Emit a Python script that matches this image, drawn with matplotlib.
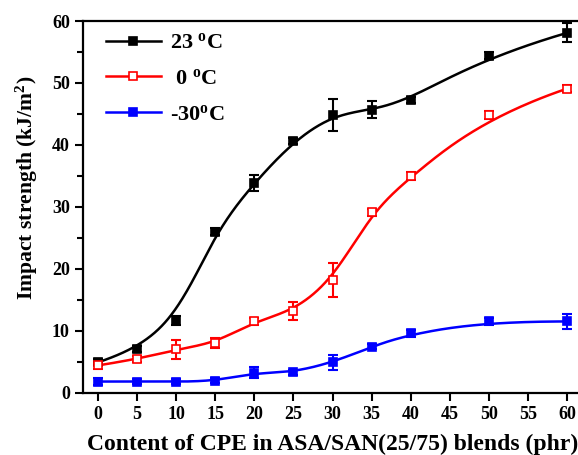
import numpy as np
import matplotlib
matplotlib.use('Agg')
import matplotlib.pyplot as plt

plt.rcParams['font.family'] = ['Liberation Serif', 'DejaVu Serif']
plt.rcParams['font.weight'] = 'bold'
plt.rcParams['mathtext.fontset'] = 'custom'
plt.rcParams['mathtext.rm'] = 'Liberation Serif:bold'
plt.rcParams['mathtext.it'] = 'Liberation Serif:bold'

# data
cpe = [0, 5, 10, 15, 20, 25, 30, 35, 40, 50, 60]
t23 = [4.9, 7.0, 11.7, 26.0, 33.9, 40.6, 44.8, 45.7, 47.3, 54.4, 58.1]
t23_err = [0.5, 0.5, 0.7, 0.6, 1.3, 0.5, 2.6, 1.4, 0.5, 0.6, 1.5]
t0 = [4.4, 5.4, 7.0, 8.0, 11.5, 13.2, 18.2, 29.1, 35.0, 44.8, 49.1]
t0_err = [0.6, 0.5, 1.5, 0.8, 0.5, 1.5, 2.8, 0.6, 0.6, 0.6, 0.5]
tm30 = [1.8, 1.8, 1.75, 1.9, 3.2, 3.3, 4.9, 7.4, 9.6, 11.5, 11.5]
tm30_err = [0.6, 0.4, 0.4, 0.4, 0.9, 0.4, 1.2, 0.4, 0.6, 0.6, 1.2]
labels = ['23 $^{\\rm o}$C', ' 0 $^{\\rm o}$C', '-30$^{\\rm o}$C']


def bspline(x, y, n=400):
    # clamped cubic B-spline, the data points act as control points
    P = np.column_stack([x, y]).astype(float)
    k = 3
    m = len(P)
    knots = np.concatenate([[0] * k, np.arange(m - k + 1), [m - k] * k]).astype(float)
    ts = np.linspace(0, m - k, n)
    out = []
    for t in ts:
        s = min(int(np.floor(t)) + k, m - 1)
        d = [P[j + s - k].copy() for j in range(k + 1)]
        for r in range(1, k + 1):
            for j in range(k, r - 1, -1):
                i = j + s - k
                a = (t - knots[i]) / (knots[i + k + 1 - r] - knots[i])
                d[j] = (1 - a) * d[j - 1] + a * d[j]
        out.append(d[k])
    out = np.array(out)
    return out[:, 0], out[:, 1]


fig = plt.figure(figsize=(5.78, 4.55), dpi=100)
ax = fig.add_axes([83 / 578, 62.3 / 455, 500 / 578, 371.7 / 455])

series = [(t23, t23_err, 'black', 'black'),
          (t0, t0_err, 'red', 'white'),
          (tm30, tm30_err, 'blue', 'blue')]
handles = []
for (y, e, c, fc), lab in zip(series, labels):
    bx, by = bspline(cpe, y)
    ax.plot(bx, by, color=c, lw=1.8, zorder=2)
    ax.errorbar(cpe, y, yerr=e, fmt='none', ecolor=c, elinewidth=1.5,
                capsize=3.5, capthick=1.5, zorder=3)
    ax.plot(cpe, y, 's', color=c, mfc=fc, mec=c, ms=6, mew=1.2, zorder=4)
    h, = ax.plot([], [], '-s', color=c, mfc=fc, mec=c, ms=6, mew=1.2, lw=1.8, label=lab)
    handles.append(h)

ax.set_xlim(-1.9, 62)
ax.set_ylim(0, 60)
ax.set_xticks(np.arange(0, 61, 5))
ax.set_yticks(np.arange(0, 61, 10))
ax.set_yticks(np.arange(5, 60, 10), minor=True)
ax.tick_params(axis='both', which='major', direction='out', length=6, width=1.5,
               labelsize=13)
ax.tick_params(axis='y', which='minor', direction='out', length=4, width=1.5)
for s in ax.spines.values():
    s.set_linewidth(1.6)
for t in ax.get_xticklabels() + ax.get_yticklabels():
    t.set_fontweight('bold')

ax.set_xlabel('Content of CPE in ASA/SAN(25/75) blends (phr)', fontsize=17,
              fontweight='bold', labelpad=8)
ax.set_ylabel('Impact strength (kJ/m$^2$)', fontsize=15.6, fontweight='bold')
ax.yaxis.set_label_coords(-0.085, 0.55)

leg = ax.legend(handles=handles, loc='upper left', frameon=False, fontsize=16,
                handlelength=2.5, handletextpad=0.4, labelspacing=0.68,
                bbox_to_anchor=(0.005, 1.022))

fig.savefig('out.png', dpi=100)
